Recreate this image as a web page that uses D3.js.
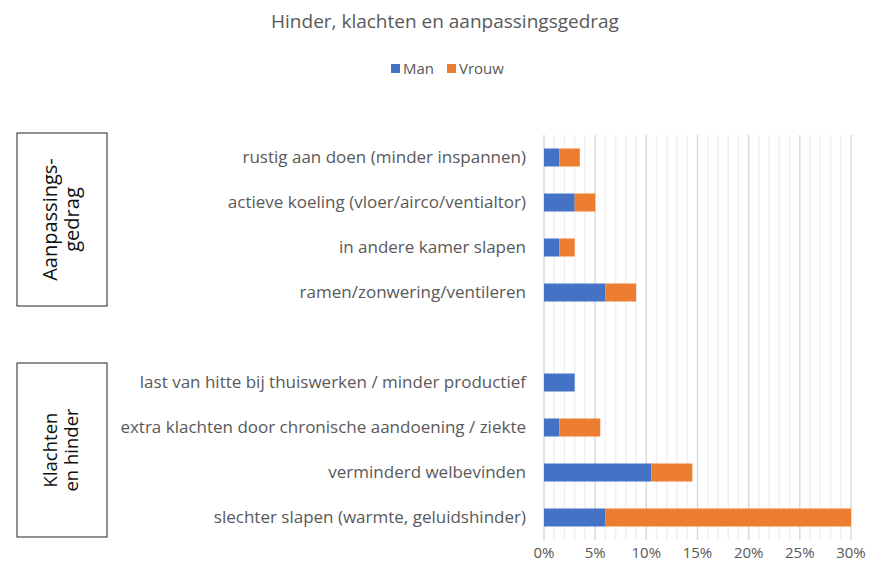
<!DOCTYPE html>
<html>
<head>
<meta charset="utf-8">
<script src="https://cdn.jsdelivr.net/npm/d3@7"></script>
<style>
body{margin:0;background:#fff;}
svg text{font-family:"Open Sans",sans-serif;fill:#595959;}
</style>
</head>
<body>
<svg id="chart" width="875" height="566"></svg>
<script>
// data (percentages), top to bottom
var categories=["rustig aan doen (minder inspannen)","actieve koeling (vloer/airco/ventialtor)","in andere kamer slapen","ramen/zonwering/ventileren",
  "last van hitte bij thuiswerken / minder productief","extra klachten door chronische aandoening / ziekte","verminderd welbevinden","slechter slapen (warmte, geluidshinder)"];
var man=[1.5,3,1.5,6,3,1.5,10.5,6];
var vrouw=[2,2,1.5,3,0,4,4,24];
var series=["Man","Vrouw"];
var colors=["#4472C4","#ED7D31"];
var ticks=[0,5,10,15,20,25,30];
var groups=[["Aanpassings-","gedrag"],["Klachten","en hinder"]];

var svg=d3.select("#chart");

// gap slot between the two groups
var slots=categories.slice(0,4).concat(["_gap"],categories.slice(4));

var x=d3.scaleLinear().domain([0,30]).range([544,851]);
var y=d3.scaleBand().domain(slots).range([135,540]).paddingInner(0.6).paddingOuter(0.3);

// gridlines: minor every 1%, major every 5%
var minor=d3.range(0,31);
svg.append("g").selectAll("line").data(minor).enter().append("line")
  .attr("x1",d=>x(d)).attr("x2",d=>x(d)).attr("y1",135).attr("y2",540)
  .attr("stroke",d=>d%5===0?"#D9D9D9":"#F0F0F0").attr("stroke-width",1.5);

// stacked bars
var rows=categories.map((c,i)=>({cat:c,Man:man[i],Vrouw:vrouw[i]}));
var stack=d3.stack().keys(series)(rows);
svg.append("g").selectAll("g").data(stack).enter().append("g")
  .attr("fill",(d,i)=>colors[i])
  .selectAll("rect").data(d=>d).enter().append("rect")
  .attr("x",d=>x(d[0])).attr("width",d=>x(d[1])-x(d[0]))
  .attr("y",d=>y(d.data.cat)).attr("height",y.bandwidth());

// category labels
svg.append("g").selectAll("text").data(categories).enter().append("text")
  .attr("x",526).attr("y",d=>y(d)+y.bandwidth()/2).attr("dy","0.35em")
  .attr("text-anchor","end").attr("font-size",17).text(d=>d);

// x axis tick labels
svg.append("g").selectAll("text").data(ticks).enter().append("text")
  .attr("x",d=>x(d)).attr("y",558).attr("text-anchor","middle")
  .attr("font-size",15).text(d=>d+"%");

// title
svg.append("text").attr("x",445).attr("y",28).attr("text-anchor","middle")
  .attr("font-size",19).text("Hinder, klachten en aanpassingsgedrag");

// legend
var lg=svg.append("g");
var lx=[391,447];
series.forEach(function(s,i){
  lg.append("rect").attr("x",lx[i]).attr("y",64).attr("width",9).attr("height",9).attr("fill",colors[i]);
  lg.append("text").attr("x",lx[i]+12).attr("y",74).attr("font-size",15).text(s);
});

// group boxes
var boxes=[{y0:133,y1:306},{y0:363,y1:537}];
boxes.forEach(function(b,i){
  svg.append("rect").attr("x",17).attr("y",b.y0).attr("width",90).attr("height",b.y1-b.y0)
    .attr("fill","#fff").attr("stroke","#222").attr("stroke-width",1);
  var cx=62, cy=(b.y0+b.y1)/2;
  var fs=i===0?20:18.5;
  var t=svg.append("text").attr("transform","translate("+cx+","+cy+") rotate(-90)")
    .attr("text-anchor","middle").attr("font-size",fs).style("fill","#111");
  groups[i].forEach(function(line,j){
    t.append("tspan").attr("x",0).attr("dy",j===0?(-fs*0.6+fs*0.35)+"px":fs*1.1+"px").text(line);
  });
});
</script>
</body>
</html>
